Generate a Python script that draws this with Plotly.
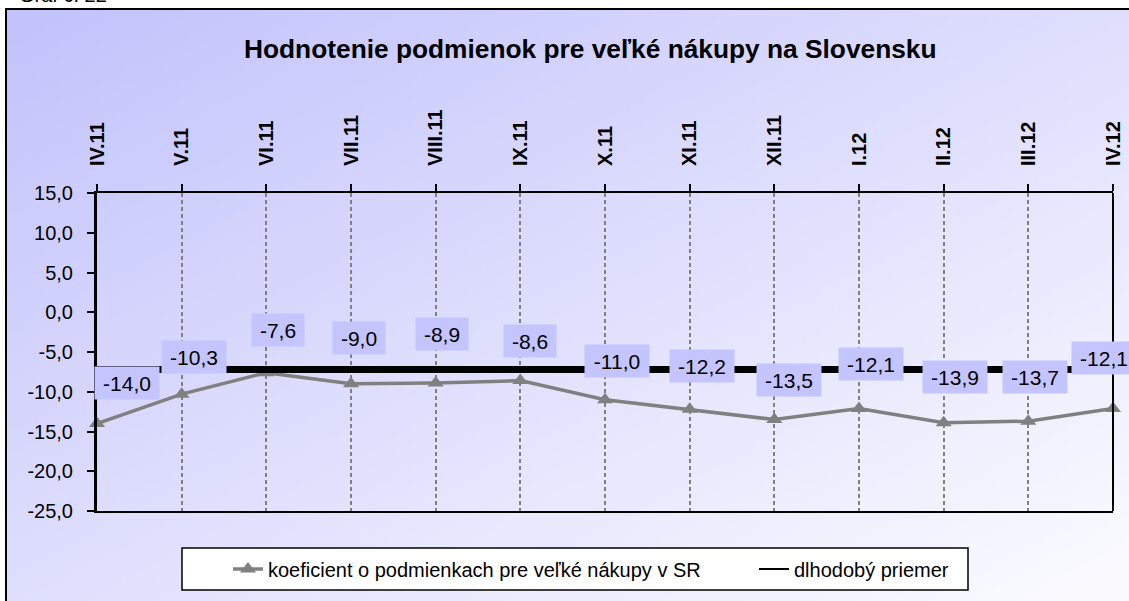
import base64, struct, zlib
import plotly.graph_objects as go

# ---------------- data ----------------
categories = ["IV.11", "V.11", "VI.11", "VII.11", "VIII.11", "IX.11", "X.11",
              "XI.11", "XII.11", "I.12", "II.12", "III.12", "IV.12"]
koeficient = [-14.0, -10.3, -7.6, -9.0, -8.9, -8.6, -11.0, -12.2, -13.5, -12.1, -13.9, -13.7, -12.1]
priemer = [-7.2] * len(categories)
y_ticks = [15, 10, 5, 0, -5, -10, -15, -20, -25]
y_tick_labels = ["15,0", "10,0", "5,0", "0,0", "-5,0", "-10,0", "-15,0", "-20,0", "-25,0"]
title_text = "Hodnotenie podmienok pre veľké nákupy na Slovensku"
name_koef = "koeficient o podmienkach pre veľké nákupy v SR"
name_avg = "dlhodobý priemer"

# label offsets (pixels) – positioning only
label_dx = [30, 12, 12, 8, 6, 10, 12, 12, 15, 12, 11, 7, -9]
label_dy = [41, 37, 43, 46, 49, 40, 39, 43, 40, 44, 46, 44, 50]

# ---------------- geometry ----------------
W, H = 1129, 601
L, R, T, B = 97, 16, 193, 90
PW, PH = W - L - R, H - T - B


def px2x(px):
    return (px - L) / PW


def py2y(py):
    return (H - B - py) / PH


FONT = "Liberation Sans, Arial, sans-serif"


# ---------------- gradient background (png) ----------------
def make_png(w, h, c0, c1):
    rows = []
    for yy in range(h):
        row = bytearray([0])
        for xx in range(w):
            t = 0.5 * xx / (w - 1) + 0.5 * yy / (h - 1)
            for k in range(3):
                row.append(int(round(c0[k] + (c1[k] - c0[k]) * t)))
        rows.append(bytes(row))
    raw = b"".join(rows)

    def chunk(tag, data):
        c = struct.pack(">I", len(data)) + tag + data
        return c + struct.pack(">I", zlib.crc32(tag + data) & 0xffffffff)

    png = b"\x89PNG\r\n\x1a\n"
    png += chunk(b"IHDR", struct.pack(">IIBBBBB", w, h, 8, 2, 0, 0, 0))
    png += chunk(b"IDAT", zlib.compress(raw, 9))
    png += chunk(b"IEND", b"")
    return "data:image/png;base64," + base64.b64encode(png).decode()


bg = make_png(160, 90, (194, 194, 252), (252, 252, 255))

fig = go.Figure()

fig.add_trace(go.Scatter(
    x=categories, y=koeficient, mode="lines+markers", name=name_koef,
    line=dict(color="#808080", width=3.5),
    marker=dict(symbol="triangle-up", size=14, color="#808080"),
    cliponaxis=False, legend="legend",
))
fig.add_trace(go.Scatter(
    x=categories, y=priemer, mode="lines", name=name_avg, showlegend=False,
    line=dict(color="black", width=7),
))
fig.add_trace(go.Scatter(
    x=[categories[0]], y=[None], mode="lines", name=name_avg,
    line=dict(color="black", width=2), legend="legend2",
))

annotations = []
for i, (c, v) in enumerate(zip(categories, koeficient)):
    txt = f"{v:.1f}".replace(".", ",")
    annotations.append(dict(
        x=c, y=v, xref="x", yref="y", text=txt, showarrow=False,
        xshift=label_dx[i], yshift=label_dy[i],
        font=dict(family=FONT, size=21, color="black"),
        bgcolor="#c4c4ff", borderpad=3, width=12 * len(txt) - 2, height=26,
    ))

annotations.append(dict(
    x=px2x(590), y=py2y(49), xref="paper", yref="paper", text=f"<b>{title_text}</b>",
    showarrow=False, xanchor="center", yanchor="middle",
    font=dict(family=FONT, size=26.3, color="black"),
))
annotations.append(dict(
    x=px2x(17), y=py2y(8.5), xref="paper", yref="paper", text="Graf č. 22",
    showarrow=False, xanchor="left", yanchor="bottom",
    font=dict(family=FONT, size=20, color="black"),
))

legend_common = dict(
    orientation="h", yanchor="middle", xanchor="left",
    bgcolor="rgba(0,0,0,0)", borderwidth=0,
    font=dict(family=FONT, size=20, color="black"),
)

fig.update_layout(
    width=W, height=H, autosize=False,
    margin=dict(l=L, r=R, t=T, b=B, pad=0, autoexpand=False),
    paper_bgcolor="white", plot_bgcolor="rgba(0,0,0,0)",
    separators=", ",
    font=dict(family=FONT, size=20, color="black"),
    showlegend=True,
    legend=dict(x=px2x(228), y=py2y(569), **legend_common),
    legend2=dict(x=px2x(754), y=py2y(569), **legend_common),
    annotations=annotations,
    images=[dict(
        source=bg, xref="paper", yref="paper",
        x=px2x(6), y=py2y(9), sizex=px2x(W + 5) - px2x(6), sizey=py2y(9) - py2y(H + 5),
        xanchor="left", yanchor="top", sizing="stretch", layer="below",
    )],
    shapes=[
        dict(type="rect", xref="paper", yref="paper",
             x0=px2x(6), x1=px2x(W + 10), y0=py2y(H + 10), y1=py2y(9),
             line=dict(color="black", width=2), fillcolor="rgba(0,0,0,0)", layer="below"),
        dict(type="line", xref="paper", yref="paper", x0=1, x1=1, y0=0, y1=1,
             line=dict(color="black", width=2)),
        dict(type="rect", xref="paper", yref="paper",
             x0=px2x(182), x1=px2x(968), y0=py2y(590), y1=py2y(548),
             line=dict(color="black", width=1.5), fillcolor="white", layer="below"),
    ],
)

fig.update_xaxes(
    type="category", range=[0, len(categories) - 1], side="top",
    tickangle=-90, tickfont=dict(family=FONT, size=20, color="black"),
    tickprefix="<b>", ticksuffix="</b>",
    ticks="outside", ticklen=7, tickwidth=2, tickcolor="black",
    ticklabelstandoff=14,
    showline=True, linecolor="black", linewidth=2, mirror=True,
    showgrid=True, gridcolor="#808080", gridwidth=1.5, griddash="4px,3px",
    zeroline=False, fixedrange=True,
)
fig.update_yaxes(
    range=[-25, 15], tickvals=y_ticks, ticktext=y_tick_labels,
    tickfont=dict(family=FONT, size=20, color="black"),
    ticks="outside", ticklen=7, tickwidth=2, tickcolor="black",
    ticklabelstandoff=10,
    showline=True, linecolor="black", linewidth=3, mirror=False,
    showgrid=False, zeroline=False, fixedrange=True,
)

fig.write_html(
    "out.html",
    config={"displayModeBar": False},
    post_script="document.body.style.margin='0px';document.body.style.overflow='hidden';",
)
